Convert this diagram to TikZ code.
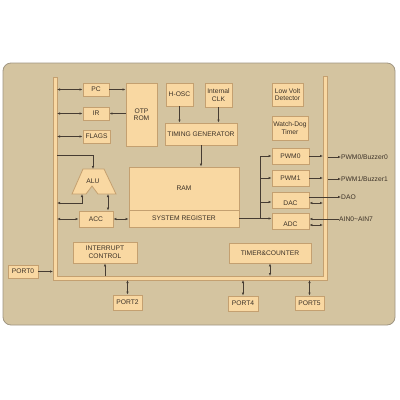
\documentclass[tikz,border=0pt]{standalone}
\usepackage{fontspec}
\setmainfont{Liberation Sans}
\usetikzlibrary{arrows.meta}
\definecolor{bgfill}{RGB}{212,196,160}
\definecolor{bgline}{RGB}{160,150,130}
\definecolor{boxfill}{RGB}{249,216,162}
\definecolor{boxline}{RGB}{196,160,112}
\definecolor{ink}{RGB}{60,50,40}
\definecolor{wire}{RGB}{70,60,50}
\tikzset{
  blk/.style={draw=boxline, fill=boxfill, line width=0.8pt, inner sep=0pt, align=center,
    text=ink, font=\fontsize{6.7}{7.6}\selectfont},
  lbl/.style={inner sep=0pt, text=ink, font=\fontsize{6.7}{7.6}\selectfont},
  wr/.style={draw=wire, line width=0.7pt},
  arr/.style={wr, -{Latex[length=3pt,width=2.4pt]}},
  dbl/.style={wr, {Latex[length=3pt,width=2.4pt]}-{Latex[length=3pt,width=2.4pt]}},
}
\newcommand{\bx}[6]{\node[blk, minimum width=#4-#2, minimum height=#5-#3] (#1) at ({(#2+#4)/2},{(#3+#5)/2}) {#6};}
\begin{document}
\begin{tikzpicture}[x=1pt,y=-1pt]
\useasboundingbox (0,0) rectangle (400,400);
\fill[white] (0,0) rectangle (400,400);
% background panel
\draw[fill=bgfill, draw=bgline, line width=0.8pt, rounded corners=8pt] (3,63) rectangle (395,325);
% bus
\draw[fill=boxfill, draw=boxline, line width=0.7pt]
  (53,77) -- (57,77) -- (57,276) -- (323,276) -- (323,76) -- (327,76) -- (327,280) -- (53,280) -- cycle;
\coordinate (busL) at (57,0);
\coordinate (busLo) at (53,0);
\coordinate (busR) at (323,0);
\coordinate (busRo) at (328,0);
\coordinate (busB) at (0,276);
\coordinate (busBo) at (0,280);
% blocks
\bx{pc}{83}{83}{109}{96}{PC}
\bx{ir}{83}{107}{109}{120}{IR}
\bx{flags}{83}{130}{110}{143}{FLAGS}
\bx{otp}{126}{83}{157}{146}{OTP\\ROM}
\bx{hosc}{166}{83}{193}{106}{H-OSC}
\bx{clk}{205}{83}{232}{107}{Internal\\CLK}
\bx{tg}{165}{123}{237}{145}{TIMING GENERATOR}
\bx{lvd}{272}{83}{303}{106}{Low Volt\\Detector}
\bx{wdt}{272}{116}{308}{140}{Watch-Dog\\Timer}
\bx{pwm0}{272}{148}{309}{164}{PWM0}
\bx{pwm1}{272}{170}{309}{186}{PWM1}
\bx{dac}{272}{192}{309}{208}{\raisebox{-3pt}[5pt][0pt]{DAC}}
\bx{adc}{272}{213}{309}{229}{\raisebox{-3pt}[5pt][0pt]{ADC}}
\bx{ram}{129}{167}{239}{210}{RAM}
\bx{sr}{129}{210}{239}{227}{SYSTEM REGISTER}
\bx{acc}{79}{211}{113}{227}{ACC}
\bx{ic}{73}{242}{137}{263}{INTERRUPT\\CONTROL}
\bx{tc}{229}{243}{311}{263}{TIMER\&COUNTER}
\bx{port0}{8}{265}{38}{278}{PORT0}
\bx{port2}{113}{295}{142}{310}{PORT2}
\bx{port4}{228}{296}{258}{311}{PORT4}
\bx{port5}{295}{296}{324}{310}{PORT5}
% ALU
\draw[draw=boxline, fill=boxfill, line width=0.8pt]
  (83,169) -- (104,169) -- (116,194) -- (98,194) -- (92,186) -- (86,194) -- (72,194) -- cycle;
\node[lbl] (alu) at (93,181) {ALU};
\coordinate (aluTop) at (93,169);
\coordinate (aluIn) at (93,155);
\coordinate (aluL) at (82,194);
\coordinate (aluLb) at (82,203);
\coordinate (aluR) at (108,194);
% outside labels
\node[lbl, anchor=west] (o0) at (341,157) {PWM0/Buzzer0};
\node[lbl, anchor=west] (o1) at (341,179) {PWM1/Buzzer1};
\node[lbl, anchor=west] (dao) at (341,197) {DAO};
\node[lbl, anchor=west] (ain) at (339,219) {AIN0\textasciitilde AIN7};
% connectors left side
\draw[dbl] (pc.west -| busL) -- (pc.west);
\draw[dbl] (ir.west -| busL) -- (ir.west);
\draw[dbl] (flags.west -| busL) -- (flags.west);
\draw[arr] (pc.east) -- (pc.east -| otp.west);
\draw[arr] (ir.east -| otp.west) -- (ir.east);
\draw[arr] (hosc.south) -- (hosc.south |- tg.north);
\draw[arr] (clk.south) -- (clk.south |- tg.north);
\draw[arr] (tg.south) -- (tg.south |- ram.north);
\draw[arr] (aluIn -| busL) -- (aluIn) -- (aluTop);
\draw[dbl] (busL |- aluLb) -- (aluLb) -- (aluL);
\draw[dbl] (aluR) -- (aluR |- acc.north);
\draw[dbl] (acc.west -| busL) -- (acc.west);
\draw[dbl] (acc.east) -- (acc.east -| sr.west);
% system register fan-out
\coordinate (jx) at (260,0);
\draw[arr] (sr.east) -- (sr.east -| adc.west);
\draw[wr] (jx |- sr.east) -- (jx |- pwm0.west);
\draw[arr] (jx |- pwm0.west) -- (pwm0.west);
\draw[arr] (jx |- pwm1.west) -- (pwm1.west);
\draw[arr] ([yshift=-2pt]jx |- dac.west) -- ([yshift=-2pt]dac.west);
% right side
\draw[arr] (pwm0.east) -- (pwm0.east -| busR);
\draw[arr] (pwm1.east) -- (pwm1.east -| busR);
\draw[arr] (o0.west -| busRo) -- (o0.west);
\draw[arr] (o1.west -| busRo) -- (o1.west);
\draw[arr] (dac.east |- dao.west) -- (dao.west);
\draw[dbl] ([yshift=-3pt]dac.east) -- ([yshift=-3pt]dac.east -| busR);
\draw[arr] (ain.west) -- (adc.east |- ain.west);
\draw[dbl] ([yshift=-4pt]adc.east) -- ([yshift=-4pt]adc.east -| busR);
% bottom
\draw[arr] (port0.east) -- (port0.east -| busLo);
\draw[arr] (ic.south |- busB) -- (ic.south);
\draw[dbl] (tc.south |- busB) -- (tc.south);
\draw[dbl] (port2.north |- busBo) -- (port2.north);
\draw[dbl] (port4.north |- busBo) -- (port4.north);
\draw[dbl] (port5.north |- busBo) -- (port5.north);
\end{tikzpicture}
\end{document}
